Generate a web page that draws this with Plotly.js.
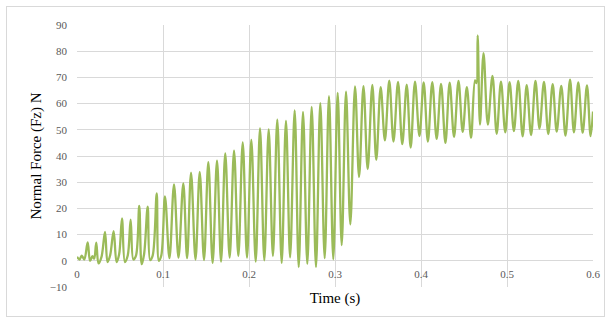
<!DOCTYPE html>
<html>
<head>
<meta charset="utf-8">
<script src="https://cdn.plot.ly/plotly-3.0.1.min.js"></script>
<style>
  html, body { margin: 0; padding: 0; background: #fff; }
  #wrap { position: relative; width: 606px; height: 320px; }
  #chart { position: absolute; left: 0; top: 0; width: 606px; height: 320px; }
  #frame { position: absolute; left: 6px; top: 6px; width: 597px; height: 309px; border: 1px solid #d9d9d9; pointer-events: none; }
</style>
</head>
<body>
<div id="wrap">
  <div id="chart"></div>
  <div id="frame"></div>
</div>
<script>
// Turning points of the normal-force signal (time in s, force in N)
const time = [
  0, 0.003, 0.0055, 0.0085, 0.0124, 0.0152, 0.018, 0.0200, 0.0224, 0.0250,
  0.0285, 0.0326, 0.0355, 0.0385, 0.0426, 0.0460, 0.0490, 0.0523, 0.0557, 0.0590,
  0.0624, 0.0655, 0.0686, 0.0724, 0.0752, 0.0780, 0.0822, 0.0850, 0.0880, 0.0927,
  0.0952, 0.0980, 0.1023, 0.1075, 0.1128, 0.1180, 0.1236, 0.1280, 0.1326, 0.1378,
  0.1427, 0.1477, 0.1527, 0.1577, 0.1628, 0.1675, 0.1724, 0.1775, 0.1826, 0.1876,
  0.1927, 0.1977, 0.2027, 0.2078, 0.2128, 0.2178, 0.2229, 0.2278, 0.2329, 0.2380,
  0.2430, 0.2478, 0.2531, 0.2578, 0.2628, 0.2678, 0.2729, 0.2779, 0.2829, 0.2880,
  0.2930, 0.2980, 0.3031, 0.3078, 0.3128, 0.3178, 0.3233, 0.3280, 0.3331, 0.3380,
  0.3434, 0.3480, 0.3531, 0.3580, 0.3631, 0.3680, 0.3733, 0.3782, 0.3834, 0.3880,
  0.3930, 0.3982, 0.4031, 0.4080, 0.4131, 0.4182, 0.4233, 0.4284, 0.4333, 0.4384,
  0.4436, 0.4485, 0.4533, 0.4582, 0.4628, 0.4645, 0.4659, 0.4686, 0.4727, 0.4777,
  0.4831, 0.4880, 0.4930, 0.4980, 0.5030, 0.5080, 0.5131, 0.5182, 0.5229, 0.5280,
  0.5331, 0.5378, 0.5430, 0.5480, 0.5531, 0.5578, 0.5631, 0.5680, 0.5733, 0.5778,
  0.5829, 0.5880, 0.5930, 0.5972, 0.6000
];
const normalForce = [
  1.5, 0.5, 2.0, 0.5, 7.0, 0.0, 1.8, 0.8, 6.9, -1.0,
  1.5, 11.0, -0.5, 2.0, 11.3, -0.5, 2.5, 16.2, -0.5, 2.0,
  15.7, 0.5, 2.0, 21.0, -1.3, 2.5, 20.7, 0.3, 2.0, 25.7,
  0.0, 2.0, 24.6, 1.0, 29.2, 1.2, 29.5, 1.0, 33.6, 0.5,
  33.9, 0.3, 37.7, -0.8, 38.2, -0.3, 41.0, 1.2, 42.0, 1.8,
  45.2, 1.2, 46.1, -0.3, 50.5, 0.2, 50.2, 1.8, 53.9, -0.8,
  53.4, 1.3, 57.4, -2.4, 56.8, -1.2, 58.7, -2.4, 60.2, 1.0,
  62.8, 0.6, 64.1, 6.0, 64.6, 13.9, 66.6, 32.0, 66.7, 35.0,
  67.1, 38.5, 66.3, 46.0, 68.8, 45.5, 68.3, 44.5, 67.2, 43.2,
  68.4, 47.6, 68.1, 45.5, 68.2, 46.5, 67.5, 45.0, 68.0, 47.3,
  68.7, 49.2, 66.3, 47.0, 68.9, 67.8, 86.0, 52.0, 79.3, 52.0,
  70.6, 48.5, 68.4, 49.0, 68.2, 49.5, 68.7, 47.5, 67.0, 48.0,
  68.7, 50.5, 68.3, 48.4, 67.4, 49.3, 66.8, 47.8, 69.1, 49.0,
  68.1, 48.9, 66.9, 47.6, 57.0
];
const xTickVals = [0, 0.1, 0.2, 0.3, 0.4, 0.5, 0.6];
const xTickText = ['0', '0.1', '0.2', '0.3', '0.4', '0.5', '0.6'];
const yTickVals = [-10, 0, 10, 20, 30, 40, 50, 60, 70, 80, 90];

const trace = {
  x: time,
  y: normalForce,
  type: 'scatter',
  mode: 'lines',
  line: { color: '#9BBB59', width: 2.3, shape: 'spline', smoothing: 1.0 },
  hoverinfo: 'skip'
};

const layout = {
  width: 606,
  height: 320,
  margin: { l: 77, r: 13, t: 25, b: 33 },
  paper_bgcolor: '#ffffff',
  plot_bgcolor: '#ffffff',
  showlegend: false,
  font: { family: 'Liberation Serif, Times New Roman, serif', color: '#595959' },
  xaxis: {
    range: [0, 0.6],
    tickvals: xTickVals,
    ticktext: xTickText,
    showgrid: true,
    gridcolor: '#d9d9d9',
    gridwidth: 1,
    zeroline: false,
    showline: false,
    ticks: '',
    anchor: 'free',
    position: 0.1,
    ticklabelstandoff: 5,
    tickfont: { size: 11, color: '#595959' },
    title: { text: 'Time (s)', font: { size: 15, color: '#000000' }, standoff: 13 }
  },
  yaxis: {
    range: [-10, 90],
    tickvals: yTickVals,
    showgrid: true,
    gridcolor: '#d9d9d9',
    gridwidth: 1,
    zeroline: true,
    zerolinecolor: '#d9d9d9',
    zerolinewidth: 1,
    showline: false,
    ticks: '',
    ticklabelstandoff: 9,
    tickfont: { size: 11, color: '#595959' },
    title: { text: 'Normal Force (Fz) N', font: { size: 15, color: '#000000' }, standoff: 4 }
  }
};

Plotly.newPlot('chart', [trace], layout, { staticPlot: true, displayModeBar: false });
</script>
</body>
</html>
